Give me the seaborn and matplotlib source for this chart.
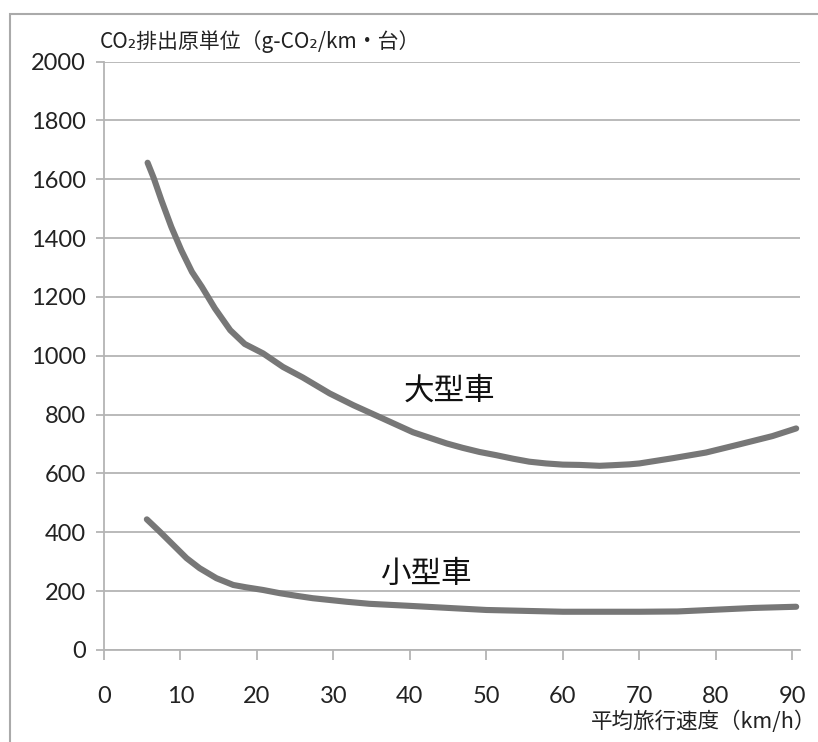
import matplotlib
matplotlib.use("Agg")
import matplotlib.pyplot as plt
from matplotlib.patches import Rectangle
import seaborn as sns
import pandas as pd

# ---- data ----
large_speed = [5.7, 6.5, 7.5, 8.8, 10.1, 11.5, 12.8, 14.5, 16.5, 18.4, 20.8, 23.4,
               26.0, 29.5, 32.6, 36.0, 38.2, 40.4, 42.6, 44.8, 46.9, 49.1, 51.3,
               53.5, 55.6, 57.8, 60.0, 62.2, 64.8, 66.5, 68.7, 70.0, 74.4, 78.7,
               83.1, 87.4, 90.5]
large_vehicle = [1656, 1604, 1529, 1438, 1359, 1285, 1234, 1161, 1087, 1040, 1008, 962,
                 926, 872, 832, 792, 766, 740, 721, 702, 687, 673, 662,
                 650, 640, 634, 630, 629, 626, 628, 631, 634, 652, 671,
                 699, 727, 753]

small_speed = [5.6, 7.3, 9.05, 10.8, 12.5, 14.7, 16.9, 18.6, 20.8, 23.0, 25.2, 27.3,
               29.5, 31.7, 34.7, 40.0, 45.0, 50.0, 55.0, 60.0, 65.0, 70.0, 75.0,
               80.0, 85.0, 90.5]
small_vehicle = [444, 402, 357, 312, 278, 244, 221, 213, 204, 193, 184, 176,
                 170, 164, 157, 150, 143, 136, 133, 130, 130, 130, 131,
                 137, 143, 147]

series_names = ["大型車", "小型車"]
label_pos = {"大型車": (45.2, 880), "小型車": (42.1, 255)}

x_ticks = list(range(0, 91, 10))
y_ticks = list(range(0, 2001, 200))
y_title = "CO₂排出原単位（g-CO₂/km・台）"
x_title = "平均旅行速度（km/h）"

df = pd.concat([
    pd.DataFrame({"speed": large_speed, "co2": large_vehicle, "type": series_names[0]}),
    pd.DataFrame({"speed": small_speed, "co2": small_vehicle, "type": series_names[1]}),
])

sns.set_theme(style="white")
plt.rcParams["font.family"] = ["Noto Sans CJK JP", "DejaVu Sans"]

W, H = 818, 742
fig = plt.figure(figsize=(W / 100, H / 100), dpi=100)
ax = fig.add_axes([104 / W, 1 - 650 / H, (800 - 104) / W, (650 - 61.5) / H])

grid_c = "#b4b4b4"
line_c = "#777777"

sns.lineplot(data=df, x="speed", y="co2", hue="type", estimator=None,
             palette={series_names[0]: line_c, series_names[1]: line_c},
             linewidth=4.4, legend=False, ax=ax, sort=False)
for ln in ax.get_lines():
    ln.set_solid_capstyle("round")
    ln.set_solid_joinstyle("round")

ax.set_xlim(0, 91)
ax.set_ylim(0, 2000)
ax.set_xticks(x_ticks)
ax.set_yticks(y_ticks)
ax.set_xlabel("")
ax.set_ylabel("")

ax.yaxis.grid(True, color=grid_c, linewidth=1.3)
ax.xaxis.grid(False)
ax.set_axisbelow(True)
for s in ["top", "right"]:
    ax.spines[s].set_visible(False)
for s in ["left", "bottom"]:
    ax.spines[s].set_color(grid_c)
    ax.spines[s].set_linewidth(1.3)

tick_family = ["Lato", "DejaVu Sans"]
ax.tick_params(axis="y", which="major", length=6, width=1.3, color=grid_c,
               pad=7, left=True, labelcolor="#222222")
ax.tick_params(axis="x", which="major", length=7, width=1.3, color=grid_c,
               pad=19, bottom=True, labelcolor="#222222")
for lab in ax.get_xticklabels() + ax.get_yticklabels():
    lab.set_fontfamily(tick_family)
    lab.set_fontsize(17)

for name in series_names:
    xx, yy = label_pos[name]
    ax.text(xx, yy, name, ha="center", va="center", fontsize=22,
            color="#111111", family=["Noto Sans CJK JP", "DejaVu Sans"])

fig.text(100 / W, 1 - 42 / H, y_title, ha="left", va="center", fontsize=15,
         color="#222222", family=["Noto Sans CJK JP", "DejaVu Sans"])
fig.text(816 / W, 1 - 722 / H, x_title, ha="right", va="center", fontsize=15.5,
         color="#222222", family=["Noto Sans CJK JP", "DejaVu Sans"])

# outer frame (only top and left edges visible)
fig.patches.append(Rectangle((10 / W, -0.1), 1.2, 1.1 - 13.5 / H,
                             transform=fig.transFigure, fill=False,
                             edgecolor="#aaaaaa", linewidth=1.5, clip_on=False))

fig.savefig("out.png", dpi=100)
